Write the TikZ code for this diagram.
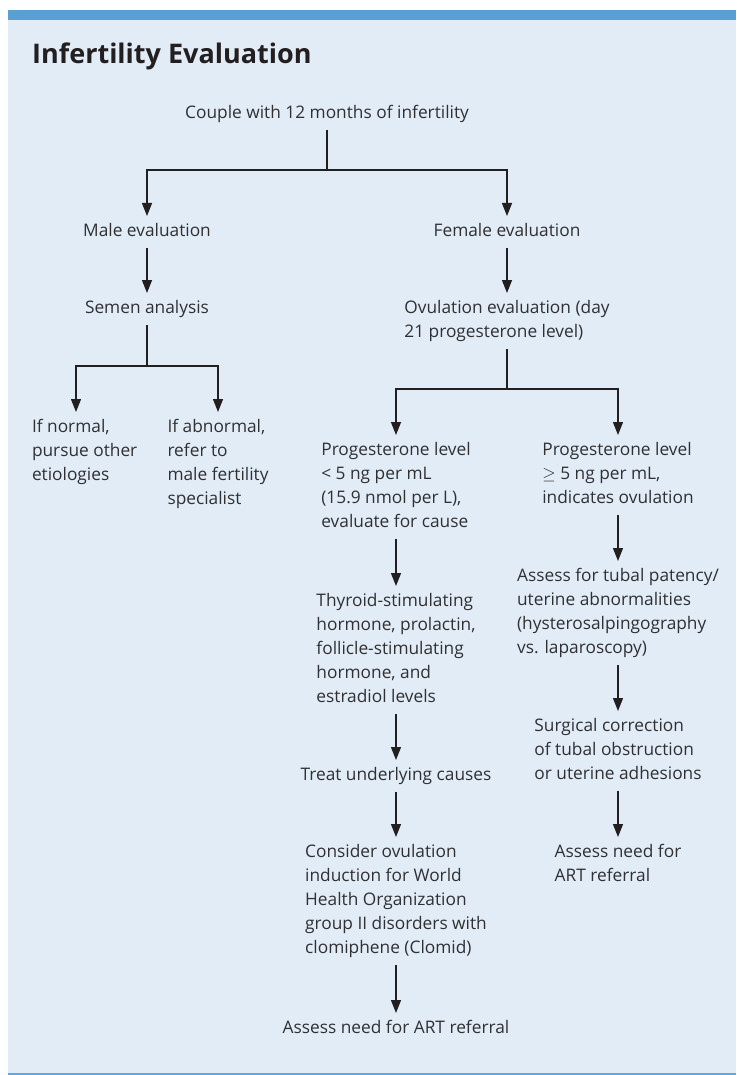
\documentclass[tikz,border=0pt]{standalone}
\usepackage{amsmath}
\usepackage{amssymb}
\usepackage{fontspec}
\setmainfont{Open Sans}
\usepackage{tikz}
\usetikzlibrary{arrows.meta}

\definecolor{panel}{HTML}{E1ECF7}
\definecolor{topbar}{HTML}{5A9FD4}
\definecolor{bottomrule}{HTML}{5DA9E2}
\definecolor{textgray}{HTML}{303032}
\definecolor{inkgray}{HTML}{231F20}

\newcommand{\txtlines}[1]{\begin{tabular}{@{}l@{}}#1\end{tabular}}

\begin{document}
\begin{tikzpicture}[x=1pt,y=-1pt]
  \tikzset{box/.style = {inner xsep=0pt,inner ysep=4pt,outer sep=0pt,anchor=north,text=textgray,
    font=\fontsize{17.3}{24}\selectfont}}
  \tikzset{edge/.style = {-{Triangle[length=13pt,width=10pt]},line width=1.3pt,draw=inkgray}}
  \tikzset{link/.style = {line width=1.3pt,draw=inkgray}}

  \useasboundingbox (0,0) rectangle (736,1075);
  \fill[panel] (8,20) rectangle (736,1073);
  \fill[topbar] (8,10) rectangle (736,20);
  \fill[bottomrule] (8,1073) rectangle (736,1075);

  \node[anchor=base west,inner sep=0pt,text=inkgray,font=\fontsize{27}{32}\selectfont\bfseries] (title) at (32,64) {Infertility Evaluation};

	\node[box] (couple) at (327,98) {\txtlines{Couple with 12 months of infertility}};
	\coordinate (j1) at (327,170);

	\node[box] (male) at (147,216) {\txtlines{Male evaluation}};
	\node[box] (semen) at (147,293) {\txtlines{Semen analysis}};
	\coordinate (j2) at (147,366);
	\node[box,anchor=north west] (normal) at (32,412) {\txtlines{If normal,\\pursue other\\etiologies}};
	\node[box] (abnormal) at (218,412) {\txtlines{If abnormal,\\refer to\\male fertility\\specialist}};

	\node[box] (female) at (507,216) {\txtlines{Female evaluation}};
	\node[box] (ovul) at (507,293) {\txtlines{Ovulation evaluation (day\\21 progesterone level)}};
	\coordinate (j3) at (507,389);

	\node[box] (lowP) at (396,435) {\txtlines{Progesterone level\\< 5 ng per mL\\(15.9 nmol per L),\\evaluate for cause}};
	\node[box] (thyroid) at (396,586) {\txtlines{Thyroid-stimulating\\hormone, prolactin,\\follicle-stimulating\\hormone, and\\estradiol levels}};
	\node[box] (treat) at (396,760) {\txtlines{Treat underlying causes}};
	\node[box] (consider) at (396,837) {\txtlines{Consider ovulation\\induction for World\\Health Organization\\group II disorders with\\clomiphene (Clomid)}};
	\node[box] (assessL) at (396,1013) {\txtlines{Assess need for ART referral}};

	\node[box] (highP) at (618,435) {\txtlines{Progesterone level\\$\geq$ 5 ng per mL,\\indicates ovulation}};
	\node[box] (tubal) at (618,561) {\txtlines{Assess for tubal patency/\\uterine abnormalities\\(hysterosalpingography\\vs. laparoscopy)}};
	\node[box] (surgical) at (618,711) {\txtlines{Surgical correction\\of tubal obstruction\\or uterine adhesions}};
	\node[box] (assessR) at (618,837) {\txtlines{Assess need for\\ART referral}};

	% splits
	\foreach \from/\to in {couple/j1, semen/j2, ovul/j3}
    \draw[link] (\from) -- (\to);
	\foreach \from/\to in {j1/male, j1/female, j2/abnormal, j3/lowP, j3/highP}
    \draw[edge] (\from) -| (\to);
	\draw[edge] (j2) -| ([xshift=44pt]normal.north west);

	% straight steps
	\foreach \from/\to in {male/semen, female/ovul, lowP/thyroid, thyroid/treat, treat/consider, consider/assessL,
	  highP/tubal, tubal/surgical, surgical/assessR}
    \draw[edge] (\from) -- (\to);
\end{tikzpicture}
\end{document}
